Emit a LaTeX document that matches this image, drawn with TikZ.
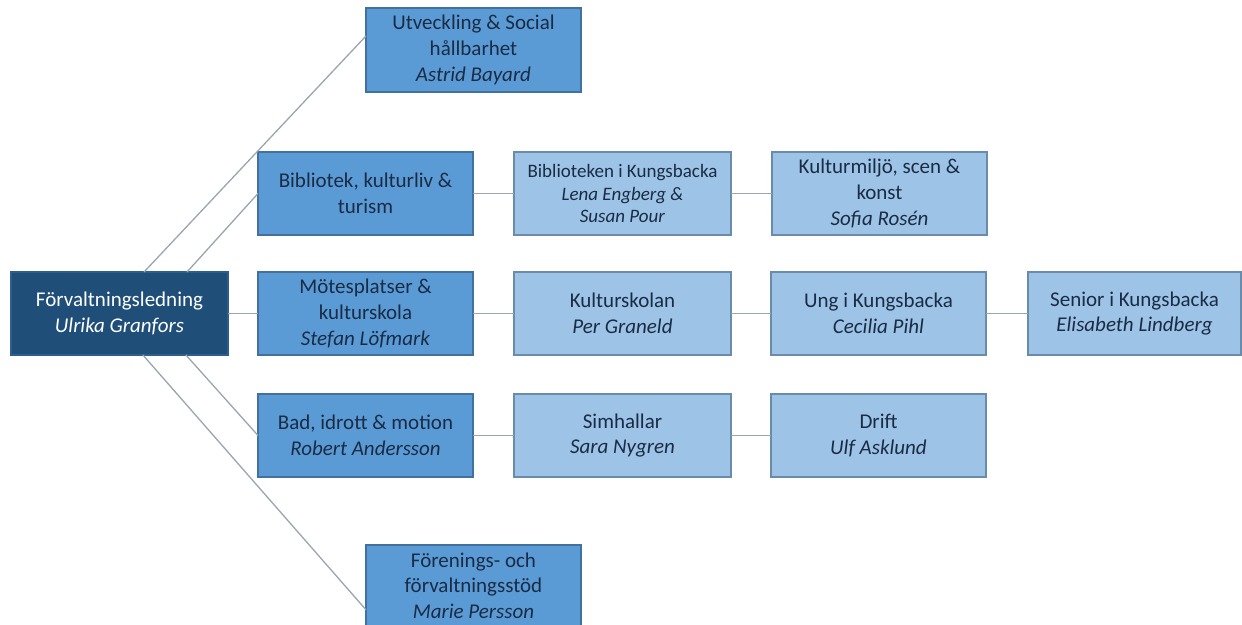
\documentclass[tikz,border=0pt]{standalone}
\usepackage{fontspec}
\setmainfont{Carlito}
\usetikzlibrary{calc}
\definecolor{rootfill}{HTML}{1F4E79}
\definecolor{rootdraw}{HTML}{2E5F8C}
\definecolor{lafill}{HTML}{5B9BD5}
\definecolor{ladraw}{HTML}{41719C}
\definecolor{lbfill}{HTML}{9DC3E6}
\definecolor{lbdraw}{HTML}{6A8CAA}
\definecolor{txt}{HTML}{1A2B45}
\definecolor{conn}{HTML}{9AA5B0}
\tikzset{
  orgbox/.style={minimum width=216pt, minimum height=83pt, inner sep=0pt, outer sep=0pt,
    align=center, font=\fontsize{21}{25.6}\selectfont, line width=1.2pt, text=txt},
  rootbox/.style={orgbox, fill=rootfill, draw=rootdraw, text=white, minimum width=217pt},
  lvla/.style={orgbox, fill=lafill, draw=ladraw},
  lvlb/.style={orgbox, fill=lbfill, draw=lbdraw},
  link/.style={draw=conn, line width=1.3pt}
}
\begin{document}
\begin{tikzpicture}[x=1pt,y=1pt]
\useasboundingbox (0,0) rectangle (1242,624);
\node[rootbox] (root) at (119.5,310.5) {Förvaltningsledning\\\textit{Ulrika Granfors}};
\node[lvla, minimum width=215pt, minimum height=84pt] (utv) at (473.5,574) {Utveckling \& Social\\hållbarhet\\\textit{Astrid Bayard}};
\node[lvla, minimum width=215pt] (bib) at (365.5,430.5) {Bibliotek, kulturliv \&\\turism};
\node[lvla, minimum width=215pt] (mot) at (365.5,310.5) {Mötesplatser \&\\kulturskola\\\textit{Stefan Löfmark}};
\node[lvla, minimum width=215pt] (bad) at (365.5,188.5) {Bad, idrott \& motion\\\textit{Robert Andersson}};
\node[lvla, minimum width=215pt, minimum height=81pt] (fore) at (473.5,38.5) {Förenings- och\\förvaltningsstöd\\\textit{Marie Persson}};
\node[lvlb, minimum width=217pt, font=\fontsize{19}{22.5}\selectfont] (bibk) at (622.5,430.5) {Biblioteken i Kungsbacka\\\textit{Lena Engberg \&}\\\textit{Susan Pour}};
\node[lvlb, minimum width=215pt] (kmil) at (879.5,430.5) {Kulturmiljö, scen \&\\konst\\\textit{Sofia Rosén}};
\node[lvlb, minimum width=217pt] (kskol) at (622.5,310.5) {Kulturskolan\\\textit{Per Graneld}};
\node[lvlb, minimum width=215pt] (ung) at (878.5,310.5) {Ung i Kungsbacka\\\textit{Cecilia Pihl}};
\node[lvlb, minimum width=213pt] (sen) at (1134.5,310.5) {Senior i Kungsbacka\\\textit{Elisabeth Lindberg}};
\node[lvlb, minimum width=217pt] (sim) at (622.5,188.5) {Simhallar\\\textit{Sara Nygren}};
\node[lvlb, minimum width=215pt] (drift) at (878.5,188.5) {Drift\\\textit{Ulf Asklund}};
% connectors
\draw[link] ($(root.north west)!0.613!(root.north east)$) -- ($(utv.north west)!0.333!(utv.south west)$);
\draw[link] ($(root.north west)!0.811!(root.north east)$) -- (bib.west);
\draw[link] (root.east) -- (mot.west);
\draw[link] ($(root.south west)!0.806!(root.south east)$) -- (bad.west);
\draw[link] ($(root.south west)!0.608!(root.south east)$) -- ($(fore.north west)!0.80!(fore.south west)$);
\draw[link] (bib.east) -- (bibk.west);
\draw[link] (bibk.east) -- (kmil.west);
\draw[link] (mot.east) -- (kskol.west);
\draw[link] (kskol.east) -- (ung.west);
\draw[link] (ung.east) -- (sen.west);
\draw[link] (bad.east) -- (sim.west);
\draw[link] (sim.east) -- (drift.west);
\end{tikzpicture}
\end{document}
